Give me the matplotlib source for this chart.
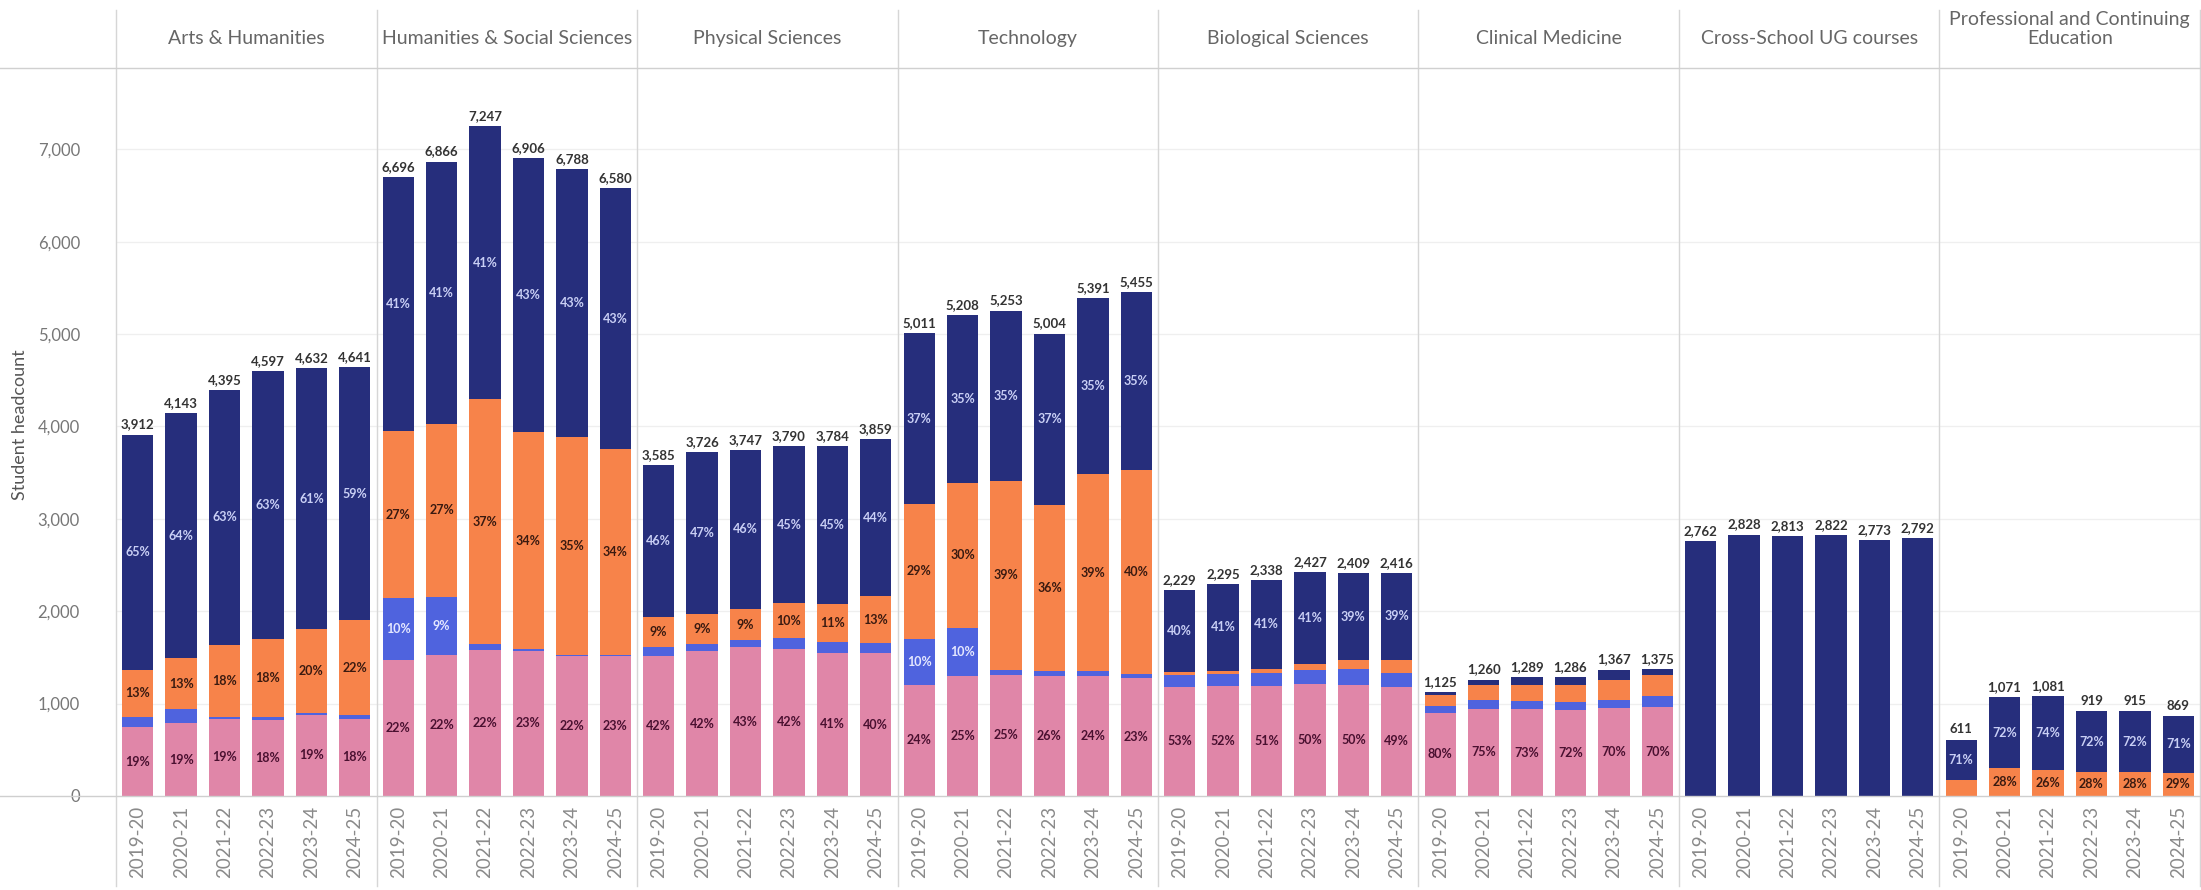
import matplotlib
matplotlib.use("Agg")
import matplotlib.pyplot as plt
import numpy as np
from matplotlib.transforms import blended_transform_factory

plt.rcParams['font.family'] = ['Lato', 'DejaVu Sans']

# ---------------- data ----------------
schools = ["Arts & Humanities", "Humanities & Social Sciences", "Physical Sciences",
           "Technology", "Biological Sciences", "Clinical Medicine",
           "Cross-School UG courses", "Professional and Continuing\nEducation"]
years = ["2019-20", "2020-21", "2021-22", "2022-23", "2023-24", "2024-25"]

# bottom segment (pink)
pink = {
    "Arts & Humanities":            [743, 787, 835, 827, 880, 835],
    "Humanities & Social Sciences": [1473, 1530, 1580, 1570, 1513, 1513],
    "Physical Sciences":            [1520, 1565, 1611, 1592, 1551, 1544],
    "Technology":                   [1203, 1302, 1313, 1301, 1300, 1275],
    "Biological Sciences":          [1181, 1193, 1192, 1214, 1205, 1184],
    "Clinical Medicine":            [900, 945, 941, 926, 957, 963],
    "Cross-School UG courses":      [0, 0, 0, 0, 0, 0],
    "Professional and Continuing\nEducation": [0, 0, 0, 0, 0, 0],
}
# second segment (blue)
blue = {
    "Arts & Humanities":            [108, 154, 20, 25, 20, 40],
    "Humanities & Social Sciences": [670, 629, 60, 20, 15, 10],
    "Physical Sciences":            [90, 75, 75, 113, 114, 115],
    "Technology":                   [501, 521, 52, 51, 55, 45],
    "Biological Sciences":          [125, 130, 140, 150, 165, 150],
    "Clinical Medicine":            [70, 95, 90, 90, 85, 120],
    "Cross-School UG courses":      [0, 0, 0, 0, 0, 0],
    "Professional and Continuing\nEducation": [0, 0, 0, 0, 0, 0],
}
# third segment (orange)
orange = {
    "Arts & Humanities":            [518, 550, 780, 849, 906, 1028],
    "Humanities & Social Sciences": [1808, 1870, 2660, 2346, 2360, 2228],
    "Physical Sciences":            [325, 335, 337, 379, 416, 502],
    "Technology":                   [1453, 1562, 2049, 1801, 2125, 2205],
    "Biological Sciences":          [35, 30, 47, 68, 99, 140],
    "Clinical Medicine":            [120, 160, 175, 185, 215, 222],
    "Cross-School UG courses":      [0, 0, 0, 0, 0, 0],
    "Professional and Continuing\nEducation": [177, 300, 281, 257, 256, 252],
}
# top segment (navy)
navy = {
    "Arts & Humanities":            [2543, 2652, 2760, 2896, 2826, 2738],
    "Humanities & Social Sciences": [2745, 2837, 2947, 2970, 2900, 2829],
    "Physical Sciences":            [1650, 1751, 1724, 1706, 1703, 1698],
    "Technology":                   [1854, 1823, 1839, 1851, 1911, 1930],
    "Biological Sciences":          [888, 942, 959, 995, 940, 942],
    "Clinical Medicine":            [35, 60, 83, 85, 110, 70],
    "Cross-School UG courses":      [2762, 2828, 2813, 2822, 2773, 2792],
    "Professional and Continuing\nEducation": [434, 771, 800, 662, 659, 617],
}
y_ticks = [0, 1000, 2000, 3000, 4000, 5000, 6000, 7000]

# ---------------- style ----------------
C_PINK, C_BLUE, C_ORANGE, C_NAVY = "#e086a8", "#4f63de", "#f7834a", "#262e7c"
TXT_ON = {C_PINK: "#4a1030", C_BLUE: "#e4e7ff", C_ORANGE: "#3a1a10", C_NAVY: "#c9cff5"}

W, H = 2201, 890
fig = plt.figure(figsize=(W / 100, H / 100), dpi=100)
x0, x1, ybase, ytop = 116, 2200, 796, 68
ax = fig.add_axes([x0 / W, (H - ybase) / H, (x1 - x0) / W, (ybase - ytop) / H])

n_years = len(years)
layers = [(pink, C_PINK), (blue, C_BLUE), (orange, C_ORANGE), (navy, C_NAVY)]

xs, xlabels = [], []
for s, school in enumerate(schools):
    x = np.arange(n_years) + s * n_years
    xs.extend(x)
    xlabels.extend(years)
    totals = np.sum([np.array(d[school], float) for d, _ in layers], axis=0)
    bottom = np.zeros(n_years)
    for d, col in layers:
        vals = np.array(d[school], float)
        ax.bar(x, vals, bottom=bottom, width=0.72, color=col, linewidth=0, zorder=3)
        for xi, v, b, t in zip(x, vals, bottom, totals):
            pct = v / t * 100
            if v >= 240 and pct < 99.5:
                ax.text(xi, b + v / 2, f"{int(round(pct))}%", ha="center", va="center",
                        fontsize=9, fontweight="bold", color=TXT_ON[col], zorder=4)
        bottom = bottom + vals
    for xi, t in zip(x, totals):
        ax.annotate(f"{int(t):,}", (xi, t), xytext=(0, 3), textcoords="offset points",
                    ha="center", va="bottom", fontsize=9.5, fontweight="bold",
                    color="#333333", zorder=4)

ax.set_xlim(-0.5, len(schools) * n_years - 0.5)
ax.set_ylim(0, 7880)
for sp in ax.spines.values():
    sp.set_visible(False)
ax.set_yticks(y_ticks)
ax.set_yticklabels([f"{v:,}" for v in y_ticks], fontsize=12, color="#777777")
ax.set_xticks(xs)
ax.set_xticklabels(xlabels, rotation=90, fontsize=13.5, color="#8a8a8a")
ax.tick_params(axis="both", length=0)
ax.tick_params(axis="x", pad=7)
ax.tick_params(axis="y", pad=26)
for v in y_ticks[1:]:
    ax.axhline(v, color="#efefef", lw=0.9, zorder=1)

# header band, separators and baseline
ah = ybase - ytop
tr = blended_transform_factory(ax.transData, ax.transAxes)
y_hdr_top = (ybase - 10) / ah
y_bottom = (ybase - 886) / ah
for s in range(len(schools) + 1):
    xb = s * n_years - 0.5
    ax.plot([xb, xb], [y_bottom, y_hdr_top], transform=tr, color="#d6d6d6",
            lw=1.0, clip_on=False, zorder=2)
for s, school in enumerate(schools):
    yc = (ybase - (29 if "\n" in school else 39)) / ah
    ax.text(s * n_years + (n_years - 1) / 2, yc, school, transform=tr,
            ha="center", va="center", fontsize=14, color="#666666",
            linespacing=1.2)

fig.add_artist(plt.Line2D([0, 1], [(H - ytop) / H] * 2, color="#d0d0d0", lw=1.0))
fig.add_artist(plt.Line2D([0, 1], [(H - ybase) / H] * 2, color="#cfcfcf", lw=1.0))

fig.text(20 / W, 1 - 425 / H, "Student headcount", rotation=90, ha="center",
         va="center", fontsize=13, color="#555555")

fig.savefig("out.png", dpi=100, facecolor="white")
